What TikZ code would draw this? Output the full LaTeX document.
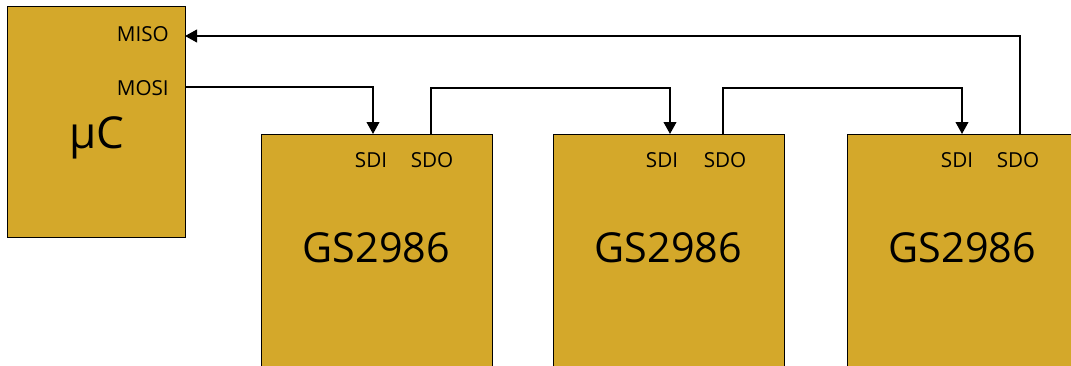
\documentclass[tikz,border=0pt]{standalone}
\usepackage{fontspec}
\setmainfont{Open Sans}
\usetikzlibrary{calc, arrows.meta}
\definecolor{chipgold}{RGB}{212,168,42}
\tikzset{
    chip/.style={draw=black, line width=0.8pt, fill=chipgold, inner sep=0pt, anchor=north west},
    pinlabel/.style={font=\fontsize{15.5}{15.5}\selectfont, inner sep=0pt, anchor=base},
    wire/.style={line width=1.4pt},
    wirein/.style={wire, -{Triangle[length=9pt, width=9.5pt]}},
}

\begin{document}
\begin{tikzpicture}[x=0.75pt, y=-0.75pt]
    \newcommand\posA{261}
    \newcommand\posB{553}
    \newcommand\posC{847}
    \newcommand\chipTop{134}

    \clip (0,0) rectangle (1071,365);

    % microcontroller
    \node[chip, minimum width=133.5pt, minimum height=173.25pt] (uc) at (7,6){};
    \node[font=\fontsize{33}{33}\selectfont, inner sep=0pt, anchor=base] (uclab) at (97,148){µC};
    \node[pinlabel, anchor=base east] (miso) at (169,41){MISO};
    \node[pinlabel, anchor=base east] (mosi) at (169,95){MOSI};
    \coordinate (misoPin) at (185,36);
    \coordinate (mosiPin) at (185,87);

    % chain of GS2986 chips
    \node[chip, minimum width=173.25pt, minimum height=200pt] (chipA) at (\posA,\chipTop){};
    \node[chip, minimum width=173.25pt, minimum height=200pt] (chipB) at (\posB,\chipTop){};
    \node[chip, minimum width=173.25pt, minimum height=200pt] (chipC) at (\posC,\chipTop){};

    \node[font=\fontsize{31}{31}\selectfont, inner sep=0pt, anchor=base] (labA) at (\posA + 115.5, 262){GS2986};
    \node[font=\fontsize{31}{31}\selectfont, inner sep=0pt, anchor=base] (labB) at (\posB + 115.5, 262){GS2986};
    \node[font=\fontsize{31}{31}\selectfont, inner sep=0pt, anchor=base] (labC) at (\posC + 115.5, 262){GS2986};

    \coordinate (sdiA) at (373, \chipTop);
    \coordinate (sdoA) at (431, \chipTop);
    \coordinate (sdiB) at (670, \chipTop);
    \coordinate (sdoB) at (723, \chipTop);
    \coordinate (sdiC) at (962, \chipTop);
    \coordinate (sdoC) at (1020, \chipTop);

    \node[pinlabel] (sdiAlab) at ($(sdiA) + (-2, 33)$){SDI};
    \node[pinlabel] (sdoAlab) at ($(sdoA) + (1, 33)$){SDO};
    \node[pinlabel] (sdiBlab) at ($(sdiB) + (-8, 33)$){SDI};
    \node[pinlabel] (sdoBlab) at ($(sdoB) + (2, 33)$){SDO};
    \node[pinlabel] (sdiClab) at ($(sdiC) + (-5, 33)$){SDI};
    \node[pinlabel] (sdoClab) at ($(sdoC) + (-2, 33)$){SDO};

    % serial links
    \draw[wirein] (mosiPin) -| (sdiA);
    \draw[wirein] (sdoA) |- (sdoA |- 0,88) -| (sdiB);
    \draw[wirein] (sdoB) |- (sdoB |- 0,88) -| (sdiC);
    \draw[wirein] (sdoC) |- (misoPin);
\end{tikzpicture}
\end{document}
